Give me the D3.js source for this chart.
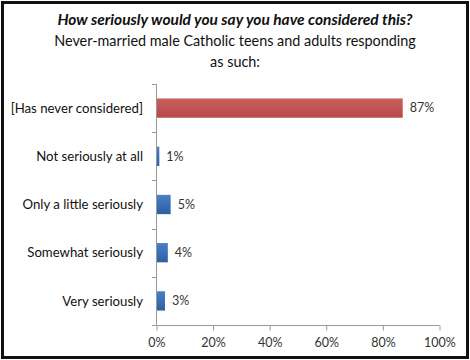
<!DOCTYPE html>
<html><head><meta charset="utf-8">
<script src="https://cdn.jsdelivr.net/npm/d3@7"></script>
<style>body{margin:0;background:#fff}svg{display:block}</style>
</head><body>
<svg id="c" width="470" height="360"></svg>
<script>
const categories = ["[Has never considered]","Not seriously at all","Only a little seriously","Somewhat seriously","Very seriously"];
const values = [87,1,5,4,3];
const barColors = ["red","blue","blue","blue","blue"];
const xTicks = [0,20,40,60,80,100];
const titleLines = ["How seriously would you say you have considered this?","Never-married male Catholic teens and adults responding","as such:"];

const svg = d3.select("#c");
const font = "Lato, 'Open Sans', sans-serif";
const defs = svg.append("defs");
const gr = defs.append("linearGradient").attr("id","gred").attr("x1",0).attr("y1",0).attr("x2",0).attr("y2",1);
gr.append("stop").attr("offset","0%").attr("stop-color","#c9605d");
gr.append("stop").attr("offset","100%").attr("stop-color","#b8484a");
const gb = defs.append("linearGradient").attr("id","gblue").attr("x1",0).attr("y1",0).attr("x2",0).attr("y2",1);
gb.append("stop").attr("offset","0%").attr("stop-color","#4a80c8");
gb.append("stop").attr("offset","100%").attr("stop-color","#2c5ea3");

svg.append("rect").attr("x",2.5).attr("y",2.5).attr("width",465).attr("height",355)
  .attr("fill","#fff").attr("stroke","#111").attr("stroke-width",3);

const x = d3.scaleLinear().domain([0,100]).range([156.5,439.5]);
const y = d3.scaleBand().domain(categories).range([84,325]).paddingInner(0.6).paddingOuter(0.3);

// title
const t = svg.append("text").attr("text-anchor","middle").attr("font-family",font).attr("fill","#111");
t.append("tspan").attr("x",235).attr("y",25).attr("font-weight","bold").attr("font-style","italic").attr("font-size",15.5).text(titleLines[0]);
t.append("tspan").attr("x",235).attr("y",46).attr("font-size",14.4).text(titleLines[1]);
t.append("tspan").attr("x",235).attr("y",67).attr("font-size",14.4).text(titleLines[2]);

// bars
svg.selectAll("rect.bar").data(categories).join("rect").attr("class","bar")
  .attr("x",x(0)).attr("y",d=>y(d)).attr("height",y.bandwidth())
  .attr("width",(d,i)=>x(values[i])-x(0))
  .attr("fill",(d,i)=>barColors[i]==="red"?"url(#gred)":"url(#gblue)");

// value labels
svg.selectAll("text.val").data(categories).join("text").attr("class","val")
  .attr("x",(d,i)=>x(values[i])+7).attr("y",d=>y(d)+y.bandwidth()/2).attr("dy","0.35em")
  .attr("font-family",font).attr("font-size",12.5).attr("fill","#333")
  .text((d,i)=>values[i]+"%");

// y axis
const axisColor = "#999";
svg.append("line").attr("x1",156.5).attr("x2",156.5).attr("y1",84).attr("y2",325).attr("stroke",axisColor);
const bounds = d3.range(categories.length+1).map(i=>84+i*(325-84)/categories.length);
svg.selectAll("line.yt").data(bounds).join("line").attr("class","yt")
  .attr("x1",152).attr("x2",156.5).attr("y1",d=>Math.round(d)+0.5).attr("y2",d=>Math.round(d)+0.5).attr("stroke",axisColor);
svg.selectAll("text.cat").data(categories).join("text").attr("class","cat")
  .attr("x",143).attr("y",d=>y(d)+y.bandwidth()/2).attr("dy","0.35em").attr("text-anchor","end")
  .attr("font-family",font).attr("font-size",13.2).attr("fill","#111").text(d=>d);

// x axis
const xa = svg.append("g").attr("transform","translate(0,325.5)")
  .call(d3.axisBottom(x).tickValues(xTicks).tickFormat(d=>d+"%").tickSize(5).tickPadding(8));
xa.select(".domain").attr("stroke",axisColor).attr("d","M156.5,0H439.5");
xa.selectAll(".tick line").attr("stroke",axisColor);
xa.selectAll(".tick text").attr("font-family",font).attr("font-size",12.5).attr("fill","#333");
</script>
</body></html>
